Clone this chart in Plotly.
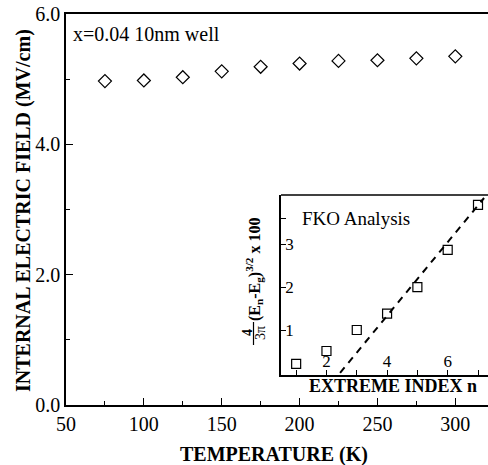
import plotly.graph_objects as go

# Main data: internal electric field vs temperature
temperature = [75, 100, 125, 150, 175, 200, 225, 250, 275, 300]
field = [4.97, 4.98, 5.03, 5.12, 5.19, 5.24, 5.28, 5.29, 5.32, 5.35]

# Inset data: FKO analysis
extreme_index = [1, 2, 3, 4, 5, 6, 7]
fko_value = [0.21, 0.51, 1.00, 1.38, 2.00, 2.87, 3.92]
fit_n = [2.45, 7.2]
fit_y = [0.0, 4.08]

main_ticks = [50, 100, 150, 200, 250, 300]
main_yticks = [0, 2, 4, 6]
inset_xticks = [2, 4, 6]
inset_yticks = [1, 2, 3]

FONT = "Liberation Serif"
W, H = 488, 465
L, R, T, B = 66, 0, 14, 60
PW, PH = W - L - R, H - T - B

def px(x):
    return (x - L) / PW

def py(y):
    return (H - B - y) / PH

fig = go.Figure()
fig.add_trace(go.Scatter(x=temperature, y=field, mode="markers",
                         marker=dict(symbol="diamond-open", size=10, color="black",
                                     line=dict(width=1.2, color="black")),
                         showlegend=False, xaxis="x", yaxis="y"))
fig.add_trace(go.Scatter(x=fit_n, y=fit_y, mode="lines",
                         line=dict(color="black", width=2, dash="7px,6px"),
                         showlegend=False, xaxis="x2", yaxis="y2"))
fig.add_trace(go.Scatter(x=extreme_index, y=fko_value, mode="markers",
                         marker=dict(symbol="square-open", size=9, color="black",
                                     line=dict(width=1.2, color="black")),
                         showlegend=False, xaxis="x2", yaxis="y2", cliponaxis=False))

axis_common = dict(showgrid=False, zeroline=False, showline=True, linecolor="black",
                   linewidth=1.5, ticks="inside", tickcolor="black", tickwidth=1.2)

fig.update_layout(
    width=W, height=H,
    margin=dict(l=L, r=R, t=T, b=B),
    paper_bgcolor="white", plot_bgcolor="white",
    font=dict(family=FONT, color="black", size=18),
    xaxis=dict(**axis_common, range=[50, 321], tickvals=main_ticks, ticklen=7,
               mirror=True, tickfont=dict(size=20, family=FONT, color="black"),
               minor=dict(tickvals=[75, 125, 175, 225, 275], ticklen=4, ticks="inside",
                          tickcolor="black", tickwidth=1)),
    yaxis=dict(**axis_common, range=[0, 6], tickvals=main_yticks,
               ticktext=["0.0", "2.0", "4.0", "6.0"], ticklen=7,
               tickfont=dict(size=20, family=FONT, color="black"),
               minor=dict(tickvals=[1, 3, 5], ticklen=4, ticks="inside",
                          tickcolor="black", tickwidth=1)),
    xaxis2=dict(**axis_common, domain=[px(281), 1.0], anchor="y2", range=[0.5, 7.33],
                tickvals=inset_xticks, ticklen=5, ticklabelposition="inside", mirror=False,
                tickfont=dict(size=17, family=FONT, color="black"),
                minor=dict(tickvals=[1, 3, 5, 7], ticklen=5, ticks="inside",
                           tickcolor="black", tickwidth=1)),
    yaxis2=dict(**axis_common, domain=[py(375), py(195)], anchor="x2", range=[-0.05, 4.15],
                tickvals=inset_yticks, ticklen=5, ticklabelposition="inside",
                tickfont=dict(size=17, family=FONT, color="black"),
                minor=dict(tickvals=[3.6], ticklen=5, ticks="inside",
                           tickcolor="black", tickwidth=1)),
)

# inset top border
fig.add_shape(type="line", xref="paper", yref="paper", x0=px(281), x1=1.0,
              y0=py(195), y1=py(195), line=dict(color="black", width=1.5))

ann = []
ann.append(dict(text="x=0.04 10nm well", x=px(71), y=py(34), xanchor="left", yanchor="middle",
                font=dict(size=20, family=FONT)))
ann.append(dict(text="FKO Analysis", x=px(300), y=py(218), xanchor="left", yanchor="middle",
                font=dict(size=19, family=FONT)))
ann.append(dict(text="<b>TEMPERATURE (K)</b>", x=px(274), y=py(454), xanchor="center",
                yanchor="middle", font=dict(size=20, family=FONT)))
ann.append(dict(text="<b>INTERNAL ELECTRIC FIELD (MV/cm)</b>", x=px(23), y=py(211),
                xanchor="center", yanchor="middle", textangle=-90,
                font=dict(size=20, family=FONT)))
ann.append(dict(text="<b>EXTREME INDEX n</b>", x=px(393), y=py(386), xanchor="center",
                yanchor="middle", font=dict(size=18, family=FONT)))
ann.append(dict(text="<b>(E<sub>n</sub>-E<sub>g</sub>)<sup>3/2</sup> x 100</b>", x=px(254),
                y=py(270), xanchor="center", yanchor="middle", textangle=-90,
                font=dict(size=16, family=FONT)))
ann.append(dict(text="<b>4</b>", x=px(247), y=py(333), xanchor="center", yanchor="middle",
                textangle=-90, font=dict(size=14, family=FONT)))
ann.append(dict(text="3π", x=px(260), y=py(333), xanchor="center", yanchor="middle",
                textangle=-90, font=dict(size=14, family=FONT)))
for a in ann:
    a.update(xref="paper", yref="paper", showarrow=False)
fig.update_layout(annotations=ann)
fig.add_shape(type="line", xref="paper", yref="paper", x0=px(253.5), x1=px(253.5),
              y0=py(322), y1=py(345), line=dict(color="black", width=1.2))

fig.write_html("out.html", config={"displayModeBar": False},
               post_script="document.body.style.margin='0';")
